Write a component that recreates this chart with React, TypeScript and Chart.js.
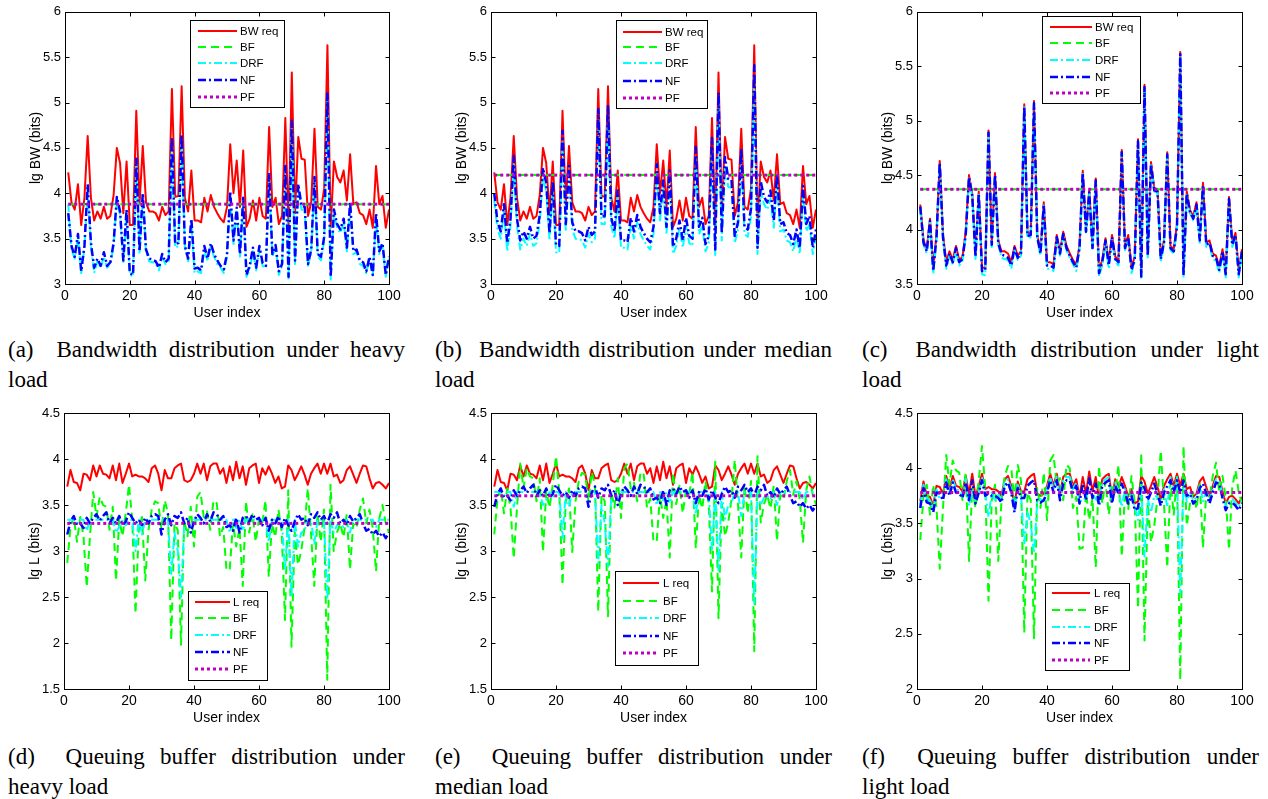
import React, { useEffect, useRef } from "react";
import { Chart, registerables } from "chart.js";

Chart.register(...registerables);
Chart.defaults.font.family = '"Liberation Sans", Arial, sans-serif';

// ---------- data ----------
const userIndex: number[] = Array.from({ length: 100 }, (_, i) => i + 1);

// Bandwidth request (lg bits), same demand in (a), (b), (c)
const bwReq = [
  4.23, 3.90, 3.82, 4.10, 3.65, 3.95, 4.63, 3.95, 3.70, 3.80,
  3.72, 3.85, 3.72, 3.75, 3.98, 4.50, 4.33, 3.78, 4.35, 3.65,
  3.65, 4.91, 3.88, 4.52, 3.90, 3.80, 3.80, 3.78, 3.70, 3.85,
  3.76, 3.80, 5.15, 3.96, 3.97, 5.18, 3.95, 3.80, 4.25, 3.70,
  3.70, 3.68, 3.95, 3.80, 3.98, 3.85, 3.78, 3.72, 3.68, 3.85,
  4.54, 4.00, 4.36, 3.85, 4.47, 3.63, 3.72, 3.92, 3.70, 3.95,
  3.75, 3.72, 4.73, 3.85, 3.95, 3.66, 3.75, 4.83, 3.60, 5.33,
  3.78, 4.62, 4.38, 4.37, 3.75, 3.90, 4.71, 3.85, 3.82, 4.05,
  5.63, 3.62, 4.35, 4.18, 4.12, 4.25, 3.92, 4.43, 3.88, 3.90,
  3.78, 3.76, 3.66, 3.82, 3.62, 4.30, 3.88, 3.97, 3.62, 3.82,
];
const bwNFHeavy = [
  3.78, 3.42, 3.30, 3.55, 3.14, 3.42, 4.10, 3.45, 3.18, 3.28,
  3.20, 3.35, 3.20, 3.24, 3.45, 3.96, 3.80, 3.26, 3.82, 3.12,
  3.10, 4.38, 3.36, 4.00, 3.38, 3.28, 3.27, 3.25, 3.18, 3.33,
  3.24, 3.28, 4.62, 3.44, 3.45, 4.65, 3.42, 3.28, 3.72, 3.17,
  3.18, 3.15, 3.42, 3.28, 3.45, 3.33, 3.26, 3.20, 3.16, 3.33,
  4.02, 3.48, 3.84, 3.33, 3.95, 3.10, 3.20, 3.40, 3.18, 3.42,
  3.23, 3.20, 4.21, 3.33, 3.43, 3.14, 3.22, 4.30, 3.08, 4.80,
  3.26, 4.10, 3.86, 3.85, 3.22, 3.38, 4.18, 3.33, 3.30, 3.52,
  5.10, 3.08, 3.82, 3.66, 3.60, 3.72, 3.40, 3.90, 3.36, 3.38,
  3.26, 3.24, 3.14, 3.30, 3.10, 3.78, 3.36, 3.45, 3.10, 3.30,
];
const bwDRFHeavy = [
  3.88, 3.38, 3.28, 3.52, 3.12, 3.40, 4.05, 3.42, 3.12, 3.25,
  3.18, 3.30, 3.18, 3.22, 3.42, 3.92, 3.76, 3.22, 3.78, 3.10,
  3.08, 4.32, 3.33, 3.96, 3.35, 3.25, 3.24, 3.22, 3.15, 3.30,
  3.22, 3.25, 4.55, 3.40, 3.42, 4.60, 3.40, 3.25, 3.68, 3.12,
  3.14, 3.12, 3.38, 3.25, 3.42, 3.30, 3.22, 3.18, 3.12, 3.30,
  3.96, 3.44, 3.80, 3.30, 3.90, 3.08, 3.16, 3.36, 3.15, 3.38,
  3.20, 3.18, 4.15, 3.30, 3.40, 3.10, 3.20, 4.24, 3.05, 4.72,
  3.22, 4.04, 3.82, 3.80, 3.20, 3.35, 4.12, 3.30, 3.26, 3.48,
  5.02, 3.05, 3.78, 3.62, 3.56, 3.68, 3.36, 3.84, 3.33, 3.35,
  3.22, 3.20, 3.12, 3.28, 3.08, 3.72, 3.33, 3.42, 3.08, 3.28,
];
const bwNFMedian = [
  4.00, 3.68, 3.58, 3.88, 3.45, 3.72, 4.41, 3.72, 3.48, 3.58,
  3.50, 3.63, 3.50, 3.53, 3.76, 4.28, 4.11, 3.56, 4.13, 3.43,
  3.42, 4.69, 3.66, 4.30, 3.68, 3.58, 3.58, 3.56, 3.48, 3.63,
  3.54, 3.58, 4.93, 3.74, 3.75, 4.96, 3.73, 3.58, 4.03, 3.48,
  3.48, 3.46, 3.73, 3.58, 3.76, 3.63, 3.56, 3.50, 3.46, 3.63,
  4.32, 3.78, 4.14, 3.63, 4.25, 3.41, 3.50, 3.70, 3.48, 3.73,
  3.53, 3.50, 4.51, 3.63, 3.73, 3.44, 3.53, 4.61, 3.38, 5.11,
  3.56, 4.40, 4.16, 4.15, 3.53, 3.68, 4.49, 3.63, 3.60, 3.83,
  5.41, 3.40, 4.13, 3.96, 3.90, 4.03, 3.70, 4.21, 3.66, 3.68,
  3.56, 3.54, 3.44, 3.60, 3.40, 4.08, 3.66, 3.75, 3.40, 3.60,
];
const bwDRFMedian = [
  3.92, 3.60, 3.50, 3.80, 3.36, 3.64, 4.32, 3.64, 3.38, 3.50,
  3.42, 3.55, 3.42, 3.45, 3.68, 4.18, 4.02, 3.48, 4.04, 3.35,
  3.34, 4.58, 3.58, 4.22, 3.60, 3.50, 3.50, 3.48, 3.40, 3.55,
  3.46, 3.50, 4.82, 3.66, 3.66, 4.86, 3.64, 3.50, 3.95, 3.40,
  3.40, 3.38, 3.64, 3.50, 3.68, 3.55, 3.48, 3.42, 3.38, 3.55,
  4.22, 3.70, 4.05, 3.55, 4.15, 3.33, 3.42, 3.62, 3.40, 3.64,
  3.45, 3.42, 4.40, 3.55, 3.64, 3.36, 3.45, 4.50, 3.32, 4.98,
  3.48, 4.30, 4.07, 4.06, 3.45, 3.60, 4.38, 3.55, 3.52, 3.74,
  5.28, 3.33, 4.04, 3.88, 3.82, 3.94, 3.62, 4.12, 3.58, 3.60,
  3.48, 3.46, 3.36, 3.52, 3.33, 3.99, 3.58, 3.66, 3.33, 3.52,
];
const bwNFLight = [
  4.21, 3.88, 3.80, 4.08, 3.62, 3.93, 4.61, 3.93, 3.67, 3.78,
  3.70, 3.83, 3.70, 3.73, 3.96, 4.48, 4.31, 3.75, 4.33, 3.62,
  3.62, 4.89, 3.86, 4.50, 3.88, 3.77, 3.76, 3.74, 3.67, 3.83,
  3.74, 3.78, 5.13, 3.94, 3.95, 5.16, 3.93, 3.78, 4.23, 3.67,
  3.67, 3.65, 3.93, 3.78, 3.96, 3.83, 3.76, 3.70, 3.65, 3.83,
  4.52, 3.98, 4.34, 3.83, 4.45, 3.60, 3.70, 3.90, 3.67, 3.93,
  3.73, 3.70, 4.71, 3.83, 3.93, 3.63, 3.73, 4.81, 3.57, 5.31,
  3.76, 4.60, 4.36, 4.35, 3.73, 3.88, 4.69, 3.83, 3.80, 4.03,
  5.61, 3.58, 4.33, 4.16, 4.10, 4.23, 3.90, 4.41, 3.86, 3.88,
  3.76, 3.74, 3.63, 3.80, 3.59, 4.28, 3.86, 3.95, 3.59, 3.80,
];
const bwDRFLight = [
  4.19, 3.86, 3.78, 4.06, 3.59, 3.91, 4.60, 3.91, 3.64, 3.76,
  3.68, 3.81, 3.67, 3.71, 3.94, 4.47, 4.30, 3.73, 4.32, 3.59,
  3.58, 4.88, 3.84, 4.49, 3.86, 3.74, 3.73, 3.72, 3.64, 3.81,
  3.72, 3.76, 5.12, 3.92, 3.93, 5.15, 3.91, 3.76, 4.22, 3.64,
  3.64, 3.62, 3.91, 3.76, 3.94, 3.81, 3.74, 3.68, 3.62, 3.81,
  4.51, 3.96, 4.33, 3.81, 4.44, 3.57, 3.67, 3.88, 3.64, 3.91,
  3.70, 3.67, 4.70, 3.81, 3.91, 3.60, 3.70, 4.80, 3.54, 5.30,
  3.73, 4.59, 4.35, 4.34, 3.70, 3.86, 4.68, 3.81, 3.78, 4.01,
  5.60, 3.55, 4.32, 4.15, 4.08, 4.22, 3.88, 4.40, 3.84, 3.86,
  3.73, 3.71, 3.60, 3.78, 3.56, 4.27, 3.84, 3.93, 3.56, 3.78,
];
// constant allocations (heavy, median, light)
const bwBFLevels = [3.88, 4.2, 4.37];
const bwPFLevels = [3.88, 4.2, 4.37];

// Queuing buffer request (lg bits), same demand in (d), (e), (f)
const lReq = [
  3.70, 3.88, 3.75, 3.74, 3.66, 3.84, 3.83, 3.77, 3.93, 3.81,
  3.93, 3.84, 3.83, 3.79, 3.93, 3.77, 3.95, 3.74, 3.84, 3.95,
  3.81, 3.83, 3.81, 3.81, 3.79, 3.75, 3.90, 3.93, 3.84, 3.66,
  3.88, 3.79, 3.79, 3.90, 3.93, 3.95, 3.77, 3.75, 3.77, 3.84,
  3.95, 3.84, 3.95, 3.77, 3.92, 3.95, 3.95, 3.84, 3.90, 3.74,
  3.92, 3.77, 3.97, 3.79, 3.92, 3.72, 3.90, 3.93, 3.95, 3.74,
  3.90, 3.83, 3.92, 3.84, 3.74, 3.81, 3.68, 3.70, 3.93, 3.88,
  3.77, 3.84, 3.92, 3.83, 3.72, 3.84, 3.90, 3.95, 3.84, 3.95,
  3.84, 3.95, 3.81, 3.83, 3.74, 3.77, 3.88, 3.92, 3.83, 3.74,
  3.84, 3.93, 3.92, 3.79, 3.68, 3.74, 3.75, 3.72, 3.68, 3.74,
];
const lBFHeavy = [
  2.87, 3.26, 3.37, 3.10, 3.37, 3.16, 2.61, 3.16, 3.64, 3.37,
  3.59, 3.50, 3.48, 3.23, 3.48, 2.68, 3.34, 3.16, 3.41, 3.72,
  3.34, 2.32, 3.23, 3.37, 2.68, 3.23, 3.45, 3.54, 3.52, 3.23,
  3.55, 3.41, 2.03, 3.30, 3.23, 1.98, 3.34, 3.16, 3.48, 3.05,
  3.59, 3.64, 3.37, 3.43, 3.23, 3.55, 3.52, 3.16, 3.26, 2.79,
  2.80, 3.30, 3.05, 3.25, 2.62, 3.54, 3.20, 3.40, 3.10, 3.35,
  3.30, 3.55, 2.72, 3.30, 3.15, 3.45, 3.20, 2.25, 3.66, 1.96,
  3.20, 2.85, 3.00, 3.25, 3.68, 3.20, 2.62, 3.40, 3.10, 3.45,
  1.60, 3.72, 3.00, 3.20, 3.30, 3.15, 3.40, 2.80, 3.30, 3.25,
  3.45, 3.57, 3.30, 3.45, 3.25, 2.78, 3.35, 3.50, 3.30, 3.20,
];
const lBFMedian = [
  3.18, 3.57, 3.68, 3.41, 3.68, 3.47, 2.92, 3.47, 3.95, 3.68,
  3.90, 3.81, 3.79, 3.54, 3.79, 2.99, 3.65, 3.47, 3.72, 4.03,
  3.65, 2.63, 3.54, 3.68, 2.99, 3.54, 3.76, 3.85, 3.83, 3.54,
  3.86, 3.72, 2.34, 3.61, 3.54, 2.29, 3.65, 3.47, 3.79, 3.36,
  3.90, 3.95, 3.68, 3.74, 3.54, 3.86, 3.83, 3.47, 3.57, 3.10,
  3.11, 3.61, 3.36, 3.56, 2.93, 3.85, 3.51, 3.71, 3.41, 3.66,
  3.61, 3.86, 3.03, 3.61, 3.46, 3.76, 3.51, 2.56, 3.97, 2.27,
  3.51, 3.16, 3.31, 3.56, 3.99, 3.51, 2.93, 3.71, 3.41, 3.76,
  1.91, 4.03, 3.31, 3.51, 3.61, 3.46, 3.71, 3.11, 3.61, 3.56,
  3.76, 3.88, 3.61, 3.76, 3.56, 3.09, 3.66, 3.81, 3.61, 3.51,
];
const lBFLight = [
  3.35, 3.74, 3.85, 3.58, 3.85, 3.64, 3.09, 3.64, 4.12, 3.85,
  4.07, 3.98, 3.96, 3.71, 3.96, 3.16, 3.82, 3.64, 3.89, 4.20,
  3.82, 2.80, 3.71, 3.85, 3.16, 3.71, 3.93, 4.02, 4.00, 3.71,
  4.03, 3.89, 2.51, 3.78, 3.71, 2.46, 3.82, 3.64, 3.96, 3.53,
  4.07, 4.12, 3.85, 3.91, 3.71, 4.03, 4.00, 3.64, 3.74, 3.27,
  3.28, 3.78, 3.53, 3.73, 3.10, 4.02, 3.68, 3.88, 3.58, 3.83,
  3.78, 4.03, 3.20, 3.78, 3.63, 3.93, 3.68, 2.73, 4.14, 2.44,
  3.68, 3.33, 3.48, 3.73, 4.16, 3.68, 3.10, 3.88, 3.58, 3.93,
  2.08, 4.20, 3.48, 3.68, 3.78, 3.63, 3.88, 3.28, 3.78, 3.73,
  3.93, 4.05, 3.78, 3.93, 3.73, 3.26, 3.83, 3.98, 3.78, 3.68,
];
const lDRFHeavy = [
  3.34, 3.34, 3.34, 3.30, 3.34, 3.34, 3.22, 3.34, 3.34, 3.34,
  3.34, 3.34, 3.34, 3.34, 3.34, 3.20, 3.26, 3.34, 3.28, 3.34,
  3.34, 3.00, 3.34, 3.18, 3.34, 3.34, 3.34, 3.34, 3.34, 3.34,
  3.34, 3.34, 2.75, 3.20, 3.00, 2.50, 3.30, 3.34, 3.26, 3.34,
  3.34, 3.34, 3.34, 3.34, 3.34, 3.34, 3.34, 3.34, 3.34, 3.34,
  3.20, 3.34, 3.25, 3.34, 3.22, 3.34, 3.34, 3.34, 3.34, 3.34,
  3.34, 3.34, 3.10, 3.34, 3.34, 3.34, 3.34, 2.80, 3.34, 2.50,
  3.34, 3.05, 3.20, 3.22, 3.34, 3.34, 3.08, 3.34, 3.34, 3.34,
  2.47, 3.34, 3.20, 3.28, 3.30, 3.26, 3.34, 3.20, 3.34, 3.34,
  3.34, 3.34, 3.34, 3.34, 3.34, 3.26, 3.34, 3.34, 3.34, 3.34,
];
const lDRFMedian = [
  3.64, 3.64, 3.64, 3.60, 3.64, 3.64, 3.48, 3.64, 3.64, 3.64,
  3.64, 3.64, 3.64, 3.64, 3.64, 3.50, 3.56, 3.64, 3.58, 3.64,
  3.64, 3.14, 3.64, 3.48, 3.64, 3.64, 3.64, 3.64, 3.64, 3.64,
  3.64, 3.64, 2.87, 3.50, 3.30, 2.83, 3.60, 3.64, 3.56, 3.64,
  3.64, 3.64, 3.64, 3.64, 3.64, 3.64, 3.64, 3.64, 3.64, 3.64,
  3.50, 3.64, 3.55, 3.64, 3.52, 3.64, 3.64, 3.64, 3.64, 3.64,
  3.64, 3.64, 3.40, 3.64, 3.64, 3.64, 3.64, 3.00, 3.64, 2.79,
  3.64, 3.35, 3.50, 3.52, 3.64, 3.64, 3.38, 3.64, 3.64, 3.64,
  2.43, 3.64, 3.50, 3.58, 3.60, 3.56, 3.64, 3.50, 3.64, 3.64,
  3.64, 3.64, 3.64, 3.64, 3.64, 3.56, 3.64, 3.64, 3.64, 3.64,
];
const lDRFLight = [
  3.67, 3.85, 3.72, 3.71, 3.63, 3.81, 3.72, 3.74, 3.90, 3.78,
  3.90, 3.81, 3.80, 3.76, 3.90, 3.66, 3.80, 3.71, 3.76, 3.92,
  3.78, 3.56, 3.78, 3.70, 3.76, 3.72, 3.87, 3.90, 3.81, 3.63,
  3.85, 3.76, 3.31, 3.60, 3.50, 3.23, 3.70, 3.72, 3.70, 3.81,
  3.92, 3.81, 3.92, 3.74, 3.89, 3.92, 3.92, 3.81, 3.87, 3.71,
  3.70, 3.74, 3.80, 3.76, 3.72, 3.69, 3.87, 3.90, 3.92, 3.71,
  3.87, 3.80, 3.65, 3.81, 3.71, 3.78, 3.65, 3.53, 3.85, 3.20,
  3.72, 3.60, 3.75, 3.74, 3.69, 3.81, 3.65, 3.92, 3.81, 3.92,
  2.87, 3.88, 3.70, 3.78, 3.71, 3.74, 3.85, 3.70, 3.80, 3.71,
  3.81, 3.90, 3.89, 3.76, 3.65, 3.70, 3.72, 3.69, 3.65, 3.71,
];
const lNFHeavy = [
  3.18, 3.32, 3.38, 3.28, 3.30, 3.25, 3.36, 3.30, 3.36, 3.40,
  3.33, 3.38, 3.42, 3.30, 3.36, 3.30, 3.38, 3.28, 3.32, 3.42,
  3.36, 3.30, 3.34, 3.28, 3.36, 3.30, 3.38, 3.40, 3.38, 3.18,
  3.34, 3.40, 3.28, 3.38, 3.36, 3.42, 3.30, 3.36, 3.20, 3.32,
  3.40, 3.36, 3.30, 3.40, 3.32, 3.42, 3.40, 3.34, 3.38, 3.26,
  3.28, 3.22, 3.36, 3.20, 3.36, 3.38, 3.32, 3.40, 3.34, 3.36,
  3.28, 3.36, 3.22, 3.34, 3.30, 3.38, 3.26, 3.36, 3.28, 3.22,
  3.32, 3.40, 3.34, 3.36, 3.28, 3.40, 3.36, 3.42, 3.34, 3.38,
  3.30, 3.40, 3.36, 3.42, 3.30, 3.34, 3.28, 3.38, 3.32, 3.36,
  3.40, 3.30, 3.22, 3.24, 3.18, 3.22, 3.16, 3.20, 3.14, 3.20,
];
const lNFMedian = [
  3.48, 3.62, 3.68, 3.58, 3.60, 3.55, 3.66, 3.60, 3.66, 3.70,
  3.63, 3.68, 3.72, 3.60, 3.66, 3.60, 3.68, 3.58, 3.62, 3.72,
  3.66, 3.60, 3.64, 3.58, 3.66, 3.60, 3.68, 3.70, 3.68, 3.48,
  3.64, 3.70, 3.58, 3.68, 3.66, 3.72, 3.60, 3.66, 3.50, 3.62,
  3.70, 3.66, 3.60, 3.70, 3.62, 3.72, 3.70, 3.64, 3.68, 3.56,
  3.58, 3.52, 3.66, 3.50, 3.66, 3.68, 3.62, 3.70, 3.64, 3.66,
  3.58, 3.66, 3.52, 3.64, 3.60, 3.68, 3.56, 3.66, 3.58, 3.52,
  3.62, 3.70, 3.64, 3.66, 3.58, 3.70, 3.66, 3.72, 3.64, 3.68,
  3.60, 3.70, 3.66, 3.72, 3.60, 3.64, 3.58, 3.68, 3.62, 3.66,
  3.70, 3.60, 3.52, 3.54, 3.48, 3.52, 3.46, 3.50, 3.44, 3.50,
];
const lNFLight = [
  3.64, 3.82, 3.69, 3.68, 3.60, 3.78, 3.77, 3.71, 3.87, 3.75,
  3.87, 3.78, 3.77, 3.73, 3.87, 3.71, 3.89, 3.68, 3.78, 3.89,
  3.75, 3.77, 3.75, 3.75, 3.73, 3.69, 3.84, 3.87, 3.78, 3.60,
  3.82, 3.73, 3.73, 3.84, 3.87, 3.89, 3.71, 3.69, 3.71, 3.78,
  3.89, 3.78, 3.89, 3.71, 3.86, 3.89, 3.89, 3.78, 3.84, 3.68,
  3.86, 3.71, 3.91, 3.73, 3.86, 3.66, 3.84, 3.87, 3.89, 3.68,
  3.84, 3.77, 3.86, 3.78, 3.68, 3.75, 3.62, 3.64, 3.87, 3.82,
  3.71, 3.78, 3.86, 3.77, 3.66, 3.78, 3.84, 3.89, 3.78, 3.89,
  3.78, 3.89, 3.75, 3.77, 3.68, 3.71, 3.82, 3.86, 3.77, 3.68,
  3.78, 3.87, 3.86, 3.73, 3.62, 3.68, 3.69, 3.66, 3.62, 3.68,
];
const lPFLevels = [3.3, 3.6, 3.78];

const bwLabels = ["BW req", "BF", "DRF", "NF", "PF"];
const lLabels = ["L req", "BF", "DRF", "NF", "PF"];
const xTicks = { min: 0, max: 100, step: 20 };

// ---------- styles ----------
type StyleKey = "req" | "bf" | "drf" | "nf" | "pf";
const STYLES: Record<StyleKey, { color: string; width: number; dash: number[]; order: number }> = {
  req: { color: "#ff0000", width: 2, dash: [], order: 5 },
  bf: { color: "#00ff00", width: 2, dash: [8, 5], order: 4 },
  drf: { color: "#00ffff", width: 2, dash: [8, 3, 2, 3], order: 3 },
  nf: { color: "#0000ff", width: 2.5, dash: [8, 3, 2, 3], order: 2 },
  pf: { color: "#c000c0", width: 3, dash: [3, 3], order: 1 },
};
const STYLE_ORDER: StyleKey[] = ["req", "bf", "drf", "nf", "pf"];

type Rect = { left: number; top: number; w: number; h: number };
type Plot = { left: number; right: number; top: number; bottom: number };
type Legend = { x0: number; y0: number; x1: number; y1: number; rows: number[]; lx0: number; lx1: number; tx: number };
type PanelCfg = {
  key: string;
  canvas: Rect;
  plot: Plot;
  yMin: number;
  yMax: number;
  yTitle: string;
  labels: string[];
  series: (number[] | number)[];
  legend: Legend;
};

const panels: PanelCfg[] = [
  {
    key: "a", canvas: { left: 0, top: 0, w: 410, h: 330 }, plot: { left: 65, right: 389, top: 9, bottom: 284 },
    yMin: 3, yMax: 6, yTitle: "lg BW (bits)", labels: bwLabels,
    series: [bwReq, bwBFLevels[0], bwDRFHeavy, bwNFHeavy, bwPFLevels[0]],
    legend: { x0: 190, y0: 20, x1: 284, y1: 107, rows: [31, 47, 63, 80, 97], lx0: 198, lx1: 237, tx: 240 },
  },
  {
    key: "b", canvas: { left: 420, top: 0, w: 415, h: 330 }, plot: { left: 491, right: 816, top: 9, bottom: 284 },
    yMin: 3, yMax: 6, yTitle: "lg BW (bits)", labels: bwLabels,
    series: [bwReq, bwBFLevels[1], bwDRFMedian, bwNFMedian, bwPFLevels[1]],
    legend: { x0: 616, y0: 20, x1: 707, y1: 108, rows: [32, 47, 63, 81, 98], lx0: 623, lx1: 662, tx: 665 },
  },
  {
    key: "c", canvas: { left: 845, top: 0, w: 420, h: 330 }, plot: { left: 917, right: 1242, top: 9, bottom: 284 },
    yMin: 3.5, yMax: 6, yTitle: "lg BW (bits)", labels: bwLabels,
    series: [bwReq, bwBFLevels[2], bwDRFLight, bwNFLight, bwPFLevels[2]],
    legend: { x0: 1042, y0: 16, x1: 1140, y1: 103, rows: [27, 43, 60, 77, 93], lx0: 1050, lx1: 1092, tx: 1095 },
  },
  {
    key: "d", canvas: { left: 0, top: 395, w: 410, h: 340 }, plot: { left: 64, right: 389, top: 413, bottom: 689 },
    yMin: 1.5, yMax: 4.5, yTitle: "lg L (bits)", labels: lLabels,
    series: [lReq, lBFHeavy, lDRFHeavy, lNFHeavy, lPFLevels[0]],
    legend: { x0: 188, y0: 591, x1: 267, y1: 680, rows: [602, 618, 635, 652, 669], lx0: 195, lx1: 230, tx: 233 },
  },
  {
    key: "e", canvas: { left: 420, top: 395, w: 415, h: 340 }, plot: { left: 491, right: 816, top: 413, bottom: 689 },
    yMin: 1.5, yMax: 4.5, yTitle: "lg L (bits)", labels: lLabels,
    series: [lReq, lBFMedian, lDRFMedian, lNFMedian, lPFLevels[1]],
    legend: { x0: 615, y0: 571, x1: 698, y1: 665, rows: [583, 601, 618, 636, 653], lx0: 623, lx1: 659, tx: 663 },
  },
  {
    key: "f", canvas: { left: 845, top: 395, w: 420, h: 340 }, plot: { left: 917, right: 1242, top: 413, bottom: 689 },
    yMin: 2, yMax: 4.5, yTitle: "lg L (bits)", labels: lLabels,
    series: [lReq, lBFLight, lDRFLight, lNFLight, lPFLevels[2]],
    legend: { x0: 1045, y0: 583, x1: 1129, y1: 670, rows: [593, 610, 627, 643, 660], lx0: 1052, lx1: 1090, tx: 1094 },
  },
];

const captions = [
  { x: 8, y: 335, l1: "(a)\u00a0 Bandwidth distribution under heavy", l2: "load" },
  { x: 435, y: 335, l1: "(b)\u00a0 Bandwidth distribution under median", l2: "load" },
  { x: 862, y: 335, l1: "(c)\u00a0 Bandwidth distribution under light", l2: "load" },
  { x: 8, y: 742, l1: "(d)\u00a0 Queuing buffer distribution under", l2: "heavy load" },
  { x: 435, y: 742, l1: "(e)\u00a0 Queuing buffer distribution under", l2: "median load" },
  { x: 862, y: 742, l1: "(f)\u00a0 Queuing buffer distribution under", l2: "light load" },
];

function toPoints(s: number[] | number) {
  if (typeof s === "number") {
    return [
      { x: userIndex[0], y: s },
      { x: userIndex[userIndex.length - 1], y: s },
    ];
  }
  return s.map((v, i) => ({ x: userIndex[i], y: v }));
}

function makeDeco(p: PanelCfg) {
  const ox = p.canvas.left;
  const oy = p.canvas.top;
  return {
    id: "deco" + p.key,
    afterDraw(chart: any) {
      const ctx: CanvasRenderingContext2D = chart.ctx;
      const a = chart.chartArea;
      const xs = chart.scales.x;
      const ys = chart.scales.y;
      ctx.save();
      // frame
      const L = Math.round(a.left) + 0.5;
      const R = Math.round(a.right) + 0.5;
      const T = Math.round(a.top) + 0.5;
      const B = Math.round(a.bottom) + 0.5;
      ctx.setLineDash([]);
      ctx.strokeStyle = "#000";
      ctx.lineWidth = 1;
      ctx.strokeRect(L, T, R - L, B - T);
      // inward ticks
      ctx.beginPath();
      const tl = 4;
      xs.ticks.forEach((t: any) => {
        const px = Math.round(xs.getPixelForValue(t.value)) + 0.5;
        ctx.moveTo(px, B);
        ctx.lineTo(px, B - tl);
        ctx.moveTo(px, T);
        ctx.lineTo(px, T + tl);
      });
      ys.ticks.forEach((t: any) => {
        const py = Math.round(ys.getPixelForValue(t.value)) + 0.5;
        ctx.moveTo(L, py);
        ctx.lineTo(L + tl, py);
        ctx.moveTo(R, py);
        ctx.lineTo(R - tl, py);
      });
      ctx.stroke();
      // axis titles
      ctx.fillStyle = "#000";
      ctx.font = '14px "Liberation Sans", Arial, sans-serif';
      ctx.textAlign = "center";
      ctx.textBaseline = "middle";
      ctx.fillText("User index", (a.left + a.right) / 2, a.bottom + 29);
      ctx.save();
      ctx.translate(a.left - 29, (a.top + a.bottom) / 2);
      ctx.rotate(-Math.PI / 2);
      ctx.fillText(p.yTitle, 0, 0);
      ctx.restore();
      // legend
      const lg = p.legend;
      ctx.fillStyle = "#fff";
      ctx.fillRect(lg.x0 - ox, lg.y0 - oy, lg.x1 - lg.x0, lg.y1 - lg.y0);
      ctx.strokeStyle = "#000";
      ctx.lineWidth = 1;
      ctx.strokeRect(lg.x0 - ox + 0.5, lg.y0 - oy + 0.5, lg.x1 - lg.x0, lg.y1 - lg.y0);
      p.labels.forEach((lab, i) => {
        const st = STYLES[STYLE_ORDER[i]];
        const y = lg.rows[i] - oy;
        ctx.beginPath();
        ctx.setLineDash(st.dash);
        ctx.strokeStyle = st.color;
        ctx.lineWidth = st.width;
        ctx.moveTo(lg.lx0 - ox, y);
        ctx.lineTo(lg.lx1 - ox, y);
        ctx.stroke();
        ctx.setLineDash([]);
        ctx.fillStyle = "#000";
        ctx.font = '11.5px "Liberation Sans", Arial, sans-serif';
        ctx.textAlign = "left";
        ctx.textBaseline = "middle";
        ctx.fillText(lab, lg.tx - ox, y + 0.5);
      });
      ctx.restore();
    },
  };
}

function Panel({ p }: { p: PanelCfg }) {
  const ref = useRef<HTMLCanvasElement | null>(null);
  useEffect(() => {
    if (!ref.current) return;
    const datasets = p.series.map((s, i) => {
      const st = STYLES[STYLE_ORDER[i]];
      return {
        label: p.labels[i],
        data: toPoints(s),
        borderColor: st.color,
        backgroundColor: st.color,
        borderWidth: st.width,
        borderDash: st.dash,
        borderJoinStyle: "round" as const,
        pointRadius: 0,
        fill: false,
        tension: 0,
        order: st.order,
      };
    });
    const yAxisW = p.plot.left - p.canvas.left;
    const xAxisH = p.canvas.top + p.canvas.h - p.plot.bottom;
    const chart = new Chart(ref.current, {
      type: "line",
      data: { datasets },
      options: {
        responsive: false,
        animation: false,
        layout: {
          padding: {
            left: 0,
            right: p.canvas.left + p.canvas.w - p.plot.right,
            top: p.plot.top - p.canvas.top,
            bottom: 0,
          },
        },
        plugins: { legend: { display: false }, tooltip: { enabled: false } },
        scales: {
          x: {
            type: "linear",
            min: xTicks.min,
            max: xTicks.max,
            ticks: { stepSize: xTicks.step, padding: 4, color: "#000", font: { size: 14 }, maxRotation: 0, autoSkip: false },
            grid: { display: false, drawTicks: false },
            border: { display: false },
            afterFit: (s: any) => {
              s.height = xAxisH;
            },
          },
          y: {
            type: "linear",
            min: p.yMin,
            max: p.yMax,
            ticks: {
              stepSize: 0.5,
              padding: 4,
              color: "#000",
              font: { size: 13 },
              autoSkip: false,
              callback: (v: any) => String(Number(v)),
            },
            grid: { display: false, drawTicks: false },
            border: { display: false },
            afterFit: (s: any) => {
              s.width = yAxisW;
            },
          },
        },
      },
      plugins: [makeDeco(p)],
    } as any);
    return () => chart.destroy();
  }, [p]);
  return (
    <canvas
      ref={ref}
      width={p.canvas.w}
      height={p.canvas.h}
      style={{ position: "absolute", left: p.canvas.left, top: p.canvas.top, width: p.canvas.w, height: p.canvas.h }}
    />
  );
}

export default function App() {
  return (
    <div style={{ position: "absolute", left: 0, top: 0, width: 1268, height: 799, background: "#fff", overflow: "hidden" }}>
      {panels.map((p) => (
        <Panel key={p.key} p={p} />
      ))}
      {captions.map((c, i) => (
        <div
          key={i}
          style={{
            position: "absolute",
            left: c.x,
            top: c.y,
            width: 397,
            fontFamily: '"Liberation Serif", "Times New Roman", serif',
            fontSize: 23,
            lineHeight: "30px",
            color: "#000",
          }}
        >
          <div style={{ textAlign: "justify", textAlignLast: "justify", whiteSpace: "nowrap" as any }}>{c.l1}</div>
          <div>{c.l2}</div>
        </div>
      ))}
    </div>
  );
}
